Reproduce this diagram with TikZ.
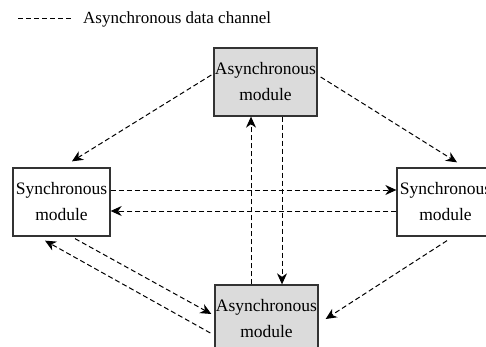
\documentclass[tikz,border=0pt]{standalone}
\usepackage{fontspec}
\setmainfont{Liberation Serif}
\usetikzlibrary{arrows.meta,calc}
\definecolor{boxgray}{RGB}{219,219,219}
\tikzset{
  modbox/.style={draw=black!80, line width=1.3pt, minimum width=#1, minimum height=68pt,
    inner sep=0pt, align=center, font=\fontsize{17.5}{26}\selectfont},
  asyncbox/.style={modbox=103pt, fill=boxgray},
  syncbox/.style={modbox=97pt, fill=white},
  chan/.style={line width=1pt, dash pattern=on 5pt off 3pt, -{Stealth[length=11pt,width=10pt,inset=3.5pt]}},
  chanplain/.style={line width=1pt, dash pattern=on 5pt off 3pt}
}
\begin{document}
\begin{tikzpicture}[x=1pt,y=-1pt]
\useasboundingbox (0,0) rectangle (486,347);
\clip (0,0) rectangle (486,347);
% legend
\coordinate (lgA) at (18,19);
\coordinate (lgB) at (72,19);
\draw[chanplain] (lgA) -- (lgB);
\node[anchor=west, inner sep=0pt, font=\fontsize{17}{20}\selectfont] (lgT) at (83,19) {Asynchronous data channel};
% modules
\node[asyncbox] (top) at (265.5,82) {Asynchronous\\module};
\node[syncbox] (left) at (61.5,202) {Synchronous\\module};
\node[syncbox] (right) at (445.5,202) {Synchronous\\module};
\node[asyncbox] (bot) at (266.5,319) {Asynchronous\\module};
% channels
\draw[chan] ([shift={(-2pt,7pt)}]top.west) -- ([shift={(10.5pt,6pt)}]left.north);
\draw[chan] ([shift={(3pt,5pt)}]top.east) -- ([shift={(11.5pt,5pt)}]right.north);
\draw[chan] ([yshift=12pt]left.east) -- ([yshift=12pt]right.west);
\draw[chan] ([yshift=-9pt]right.west) -- ([yshift=-9pt]left.east);
\draw[chan] ([xshift=-15.5pt]bot.north) -- ([xshift=-14.5pt]top.south);
\draw[chan] ([xshift=16.5pt]top.south) -- ([xshift=15.5pt]bot.north);
\draw[chan] ([shift={(13.5pt,-2pt)}]left.south) -- ([shift={(-3pt,5pt)}]bot.west);
\draw[chan] ([shift={(-4pt,-14pt)}]bot.west) -- ([shift={(-16.5pt,-4pt)}]left.south);
\draw[chan] ([shift={(1.5pt,-4pt)}]right.south) -- ([shift={(7pt,0pt)}]bot.east);
\end{tikzpicture}
\end{document}
